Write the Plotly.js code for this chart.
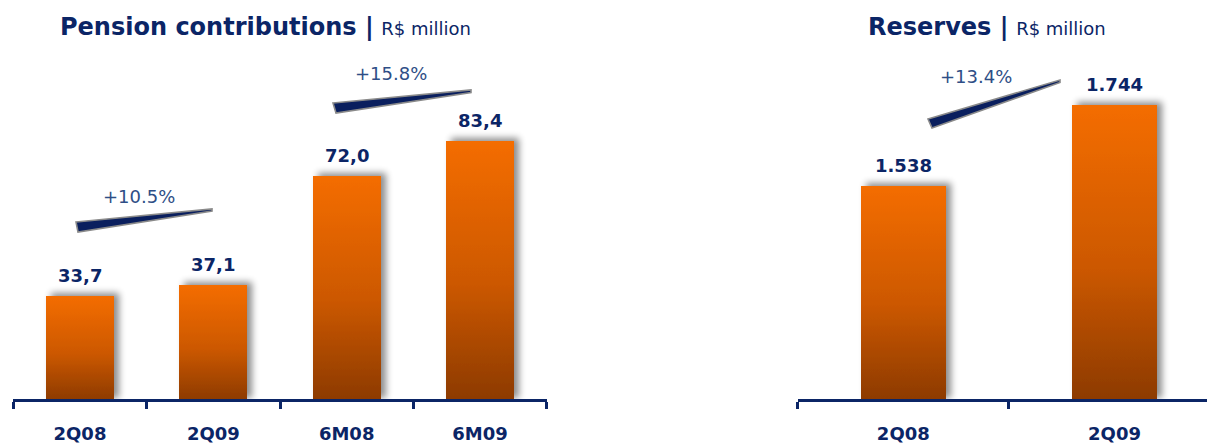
<!DOCTYPE html>
<html>
<head>
<meta charset="utf-8">
<script src="https://cdn.plot.ly/plotly-3.0.1.min.js"></script>
<style>
  html, body { margin: 0; padding: 0; background: #ffffff; }
  #chart { width: 1207px; height: 445px; }
</style>
</head>
<body>
<div id="chart"></div>
<script>
// ---------------- DATA ----------------
const pensionCategories = ["2Q08", "2Q09", "6M08", "6M09"];
const pensionValues = [33.7, 37.1, 72.0, 83.4];
const pensionGrowthLabels = ["+10.5%", "+15.8%"];

const reserveCategories = ["2Q08", "2Q09"];
const reserveValues = [1538, 1744];
const reserveGrowthLabels = ["+13.4%"];

const pensionTitle = "Pension contributions";
const reserveTitle = "Reserves";
const unitLabel = "R$ million";

// ---------------- STYLE / LAYOUT ----------------
const W = 1207, H = 445;
const px = x => x / W;
const py = y => 1 - y / H;

const NAVY = "#0B2566";
const GROWTH_BLUE = "#2E4E86";
const FONT = "DejaVu Sans";

const fmtPension = v => v.toFixed(1).replace(".", ",");
const fmtReserve = v => v.toLocaleString("de-DE");

const yDomain = [py(399), py(89)];
const reserveAxisBase = 991.2;   // value axis of the reserves panel does not start at zero

function xAxisStyle(domain, range, anchor) {
  return {
    domain: domain, range: range, anchor: anchor, type: "category",
    showline: true, linewidth: 3, linecolor: NAVY,
    ticks: "outside", tickson: "boundaries", ticklen: 7, tickwidth: 3, tickcolor: NAVY,
    ticklabelstandoff: 16,
    tickfont: { family: FONT, size: 18, color: NAVY, weight: "bold" },
    showgrid: false, zeroline: false, fixedrange: true, automargin: false
  };
}
function yAxisStyle(range, anchor) {
  return { domain: yDomain, range: range, anchor: anchor, visible: false,
           showgrid: false, zeroline: false, fixedrange: true, automargin: false };
}

const traces = [
  { type: "bar", x: pensionCategories, y: pensionValues, xaxis: "x", yaxis: "y",
    width: 0.51, marker: { color: "#E96300", line: { width: 0 } }, hoverinfo: "skip" },
  { type: "bar", x: reserveCategories, y: reserveValues.map(v => v - reserveAxisBase), base: reserveAxisBase,
    xaxis: "x2", yaxis: "y2",
    width: 0.40, marker: { color: "#E96300", line: { width: 0 } }, hoverinfo: "skip" }
];

const annotations = [];
pensionCategories.forEach((c, i) => annotations.push({
  xref: "x", yref: "y", x: c, y: pensionValues[i], text: fmtPension(pensionValues[i]),
  showarrow: false, yanchor: "bottom", yshift: 8,
  font: { family: FONT, size: 18, color: NAVY, weight: "bold" }
}));
reserveCategories.forEach((c, i) => annotations.push({
  xref: "x2", yref: "y2", x: c, y: reserveValues[i], text: fmtReserve(reserveValues[i]),
  showarrow: false, yanchor: "bottom", yshift: 8,
  font: { family: FONT, size: 18, color: NAVY, weight: "bold" }
}));

function titleAnn(title, cx) {
  return {
    xref: "paper", yref: "paper", x: px(cx), y: py(43), xanchor: "center", yanchor: "bottom",
    showarrow: false,
    text: "<b>" + title + " |</b> <span style='font-size:18px'>" + unitLabel + "</span>",
    font: { family: FONT, size: 24, color: NAVY }
  };
}
annotations.push(titleAnn(pensionTitle, 265.5));
annotations.push(titleAnn(reserveTitle, 987));

const growthPos = [[139, 196], [391, 73]];
pensionGrowthLabels.forEach((t, i) => annotations.push({
  xref: "paper", yref: "paper", x: px(growthPos[i][0]), y: py(growthPos[i][1]),
  xanchor: "center", yanchor: "middle", showarrow: false, text: t,
  font: { family: FONT, size: 18, color: GROWTH_BLUE }
}));
annotations.push({
  xref: "paper", yref: "paper", x: px(976), y: py(76),
  xanchor: "center", yanchor: "middle", showarrow: false, text: reserveGrowthLabels[0],
  font: { family: FONT, size: 18, color: GROWTH_BLUE }
});

const wedges = [
  [[76, 222], [212, 209], [212, 211], [78, 232]],
  [[333, 103], [471, 90], [471, 92.5], [336, 113]],
  [[928, 119], [1060, 80], [1060, 82.5], [932, 128]]
];
const shapes = wedges.map(w => ({
  type: "path", xref: "paper", yref: "paper",
  path: "M " + w.map(p => px(p[0]).toFixed(5) + "," + py(p[1]).toFixed(5)).join(" L ") + " Z",
  fillcolor: "#0A1F5E", line: { color: "#8A8A8A", width: 1.6 }
}));

const layout = {
  width: W, height: H,
  margin: { l: 0, r: 0, t: 0, b: 0, pad: 0 },
  paper_bgcolor: "#ffffff", plot_bgcolor: "rgba(0,0,0,0)",
  showlegend: false, bargap: 0,
  xaxis: xAxisStyle([px(13.3), px(546.7)], [-0.5, 3.5], "y"),
  yaxis: yAxisStyle([0.64, 99.97], "x"),
  xaxis2: xAxisStyle([px(797.7), 1], [-0.5, 1.438], "y2"),
  yaxis2: yAxisStyle([996.3, 1784.7], "x2"),
  annotations: annotations,
  shapes: shapes
};

Plotly.newPlot("chart", traces, layout, { displayModeBar: false, staticPlot: true }).then(gd => {
  const NS = "http://www.w3.org/2000/svg";
  const svg = gd.querySelector("svg.main-svg");
  let defs = svg.querySelector("defs");
  if (!defs) { defs = document.createElementNS(NS, "defs"); svg.insertBefore(defs, svg.firstChild); }
  const grad = document.createElementNS(NS, "linearGradient");
  grad.setAttribute("id", "barGrad");
  grad.setAttribute("x1", "0"); grad.setAttribute("y1", "0");
  grad.setAttribute("x2", "0"); grad.setAttribute("y2", "1");
  [["0", "#F46D00"], ["0.55", "#CC5800"], ["1", "#8C3A02"]].forEach(s => {
    const st = document.createElementNS(NS, "stop");
    st.setAttribute("offset", s[0]); st.setAttribute("stop-color", s[1]);
    grad.appendChild(st);
  });
  defs.appendChild(grad);
  const filt = document.createElementNS(NS, "filter");
  filt.setAttribute("id", "barShadow");
  filt.setAttribute("x", "-40%"); filt.setAttribute("y", "-40%");
  filt.setAttribute("width", "180%"); filt.setAttribute("height", "180%");
  filt.innerHTML = '<feGaussianBlur in="SourceAlpha" stdDeviation="3.5"/>' +
    '<feOffset dx="5" dy="-3" result="ob"/>' +
    '<feComponentTransfer><feFuncA type="linear" slope="0.45"/></feComponentTransfer>' +
    '<feMerge><feMergeNode/><feMergeNode in="SourceGraphic"/></feMerge>';
  defs.appendChild(filt);
  gd.querySelectorAll(".trace.bars .point path").forEach(p => {
    p.style.fill = "url(#barGrad)";
    p.setAttribute("filter", "url(#barShadow)");
  });
});
</script>
</body>
</html>
